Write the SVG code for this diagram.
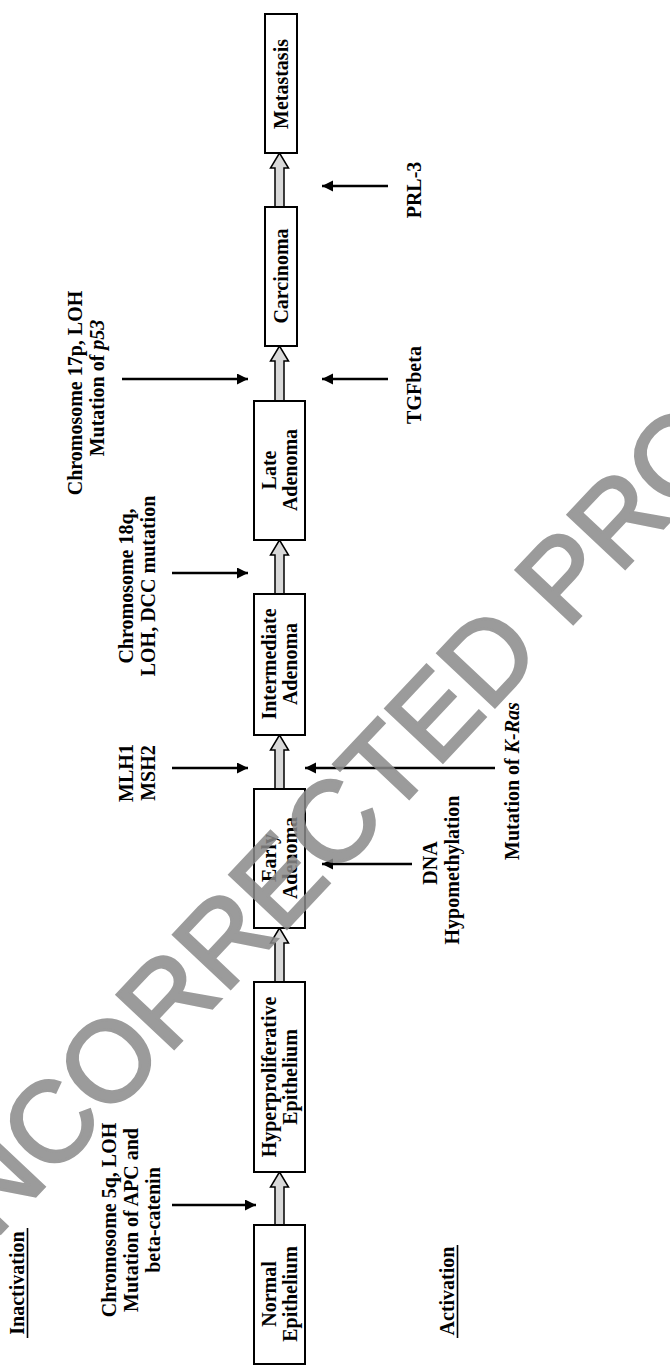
<svg xmlns="http://www.w3.org/2000/svg" width="670" height="1369" viewBox="0 0 670 1369">
<style>
.t{font-family:"Liberation Serif","Times New Roman",serif;font-weight:bold;font-size:20px;fill:#000;text-anchor:middle}
.box{fill:#fff;stroke:#000;stroke-width:2}
.blk{fill:#d9d9d9;stroke:#000;stroke-width:1.5;stroke-linejoin:miter}
.ln{stroke:#000;stroke-width:2.6;fill:none;marker-end:url(#ah)}
.ul{stroke:#000;stroke-width:1.6}
.wm{font-family:"Liberation Sans",Arial,sans-serif;font-size:114px;fill:#8a8a8a;stroke:#8a8a8a;stroke-width:3;opacity:0.85}
</style>
<defs>
<marker id="ah" markerUnits="userSpaceOnUse" markerWidth="12" markerHeight="12" refX="11" refY="5.5" orient="auto">
<path d="M0,0 L11,5.5 L0,11 Z" fill="#000"/>
</marker>
</defs>
<rect width="670" height="1369" fill="#fff"/>

<g id="headings">
<text class="t" transform="translate(24,1283) rotate(-90)">Inactivation</text>
<line class="ul" x1="27.5" y1="1228" x2="27.5" y2="1338"/>
<text class="t" transform="translate(454,1291) rotate(-90)">Activation</text>
<line class="ul" x1="457.5" y1="1245" x2="457.5" y2="1338"/>
</g>

<g id="connectors">
<path class="blk" d="M275,1225 V1187 H270.5 L279.5,1172 L288.5,1187 H284 V1225 Z"/>
<path class="blk" d="M275,982 V943 H270.5 L279.5,928 L288.5,943 H284 V982 Z"/>
<path class="blk" d="M275,789 V750 H270.5 L279.5,735 L288.5,750 H284 V789 Z"/>
<path class="blk" d="M275,594 V555 H270.5 L279.5,540 L288.5,555 H284 V594 Z"/>
<path class="blk" d="M275,401 V361 H270.5 L279.5,346 L288.5,361 H284 V401 Z"/>
<path class="blk" d="M275,207 V168 H270.5 L279.5,153 L288.5,168 H284 V207 Z"/>
<line class="ln" x1="172" y1="1205" x2="256" y2="1205"/>
<line class="ln" x1="172" y1="768" x2="248" y2="768"/>
<line class="ln" x1="172" y1="573" x2="248" y2="573"/>
<line class="ln" x1="122" y1="379" x2="248" y2="379"/>
<line class="ln" x1="495" y1="768" x2="305" y2="768"/>
<line class="ln" x1="412" y1="864" x2="322" y2="864"/>
<line class="ln" x1="388" y1="379" x2="322" y2="379"/>
<line class="ln" x1="388" y1="186" x2="322" y2="186"/>
</g>

<g id="normal">
<rect class="box" x="254" y="1225" width="51" height="139"/>
<text class="t" transform="translate(276,1294) rotate(-90)">Normal</text>
<text class="t" transform="translate(297,1294) rotate(-90)">Epithelium</text>
</g>
<g id="hyper">
<rect class="box" x="254" y="982" width="51" height="190"/>
<text class="t" transform="translate(276,1077) rotate(-90)">Hyperproliferative</text>
<text class="t" transform="translate(297,1077) rotate(-90)">Epithelium</text>
</g>
<g id="early">
<rect class="box" x="254" y="789" width="51" height="139"/>
<text class="t" transform="translate(276,858) rotate(-90)">Early</text>
<text class="t" transform="translate(297,858) rotate(-90)">Adenoma</text>
</g>
<g id="intermediate">
<rect class="box" x="254" y="594" width="51" height="141"/>
<text class="t" transform="translate(276,664) rotate(-90)">Intermediate</text>
<text class="t" transform="translate(297,664) rotate(-90)">Adenoma</text>
</g>
<g id="late">
<rect class="box" x="254" y="401" width="51" height="139"/>
<text class="t" transform="translate(276,470) rotate(-90)">Late</text>
<text class="t" transform="translate(297,470) rotate(-90)">Adenoma</text>
</g>
<g id="carcinoma">
<rect class="box" x="265" y="207" width="32" height="139"/>
<text class="t" transform="translate(288,276) rotate(-90)">Carcinoma</text>
</g>
<g id="metastasis">
<rect class="box" x="265" y="14" width="32" height="139"/>
<text class="t" transform="translate(288,84) rotate(-90)">Metastasis</text>
</g>

<g id="label-5q">
<text class="t" transform="translate(116,1220) rotate(-90)">Chromosome 5q, LOH</text>
<text class="t" transform="translate(138,1220) rotate(-90)">Mutation of APC and</text>
<text class="t" transform="translate(160,1220) rotate(-90)">beta-catenin</text>
</g>
<g id="label-mlh">
<text class="t" transform="translate(133,773) rotate(-90)">MLH1</text>
<text class="t" transform="translate(155,773) rotate(-90)">MSH2</text>
</g>
<g id="label-18q">
<text class="t" transform="translate(133,586) rotate(-90)">Chromosome 18q,</text>
<text class="t" transform="translate(155,586) rotate(-90)">LOH, DCC mutation</text>
</g>
<g id="label-17p">
<text class="t" transform="translate(82,393) rotate(-90)">Chromosome 17p, LOH</text>
<text class="t" transform="translate(104,388) rotate(-90)">Mutation of <tspan font-style="italic">p53</tspan></text>
</g>
<g id="label-dna">
<text class="t" transform="translate(437,863) rotate(-90)">DNA</text>
<text class="t" transform="translate(459,870) rotate(-90)">Hypomethylation</text>
</g>
<g id="label-kras">
<text class="t" transform="translate(519,781) rotate(-90)">Mutation of <tspan font-style="italic">K-Ras</tspan></text>
</g>
<g id="label-tgf">
<text class="t" transform="translate(421,385) rotate(-90)">TGFbeta</text>
</g>
<g id="label-prl">
<text class="t" transform="translate(421,190) rotate(-90)">PRL-3</text>
</g>

<g id="watermark">
<text class="wm" transform="translate(-62,1300) rotate(-46.8)">UNCORRECTED PROOF</text>
</g>
</svg>
